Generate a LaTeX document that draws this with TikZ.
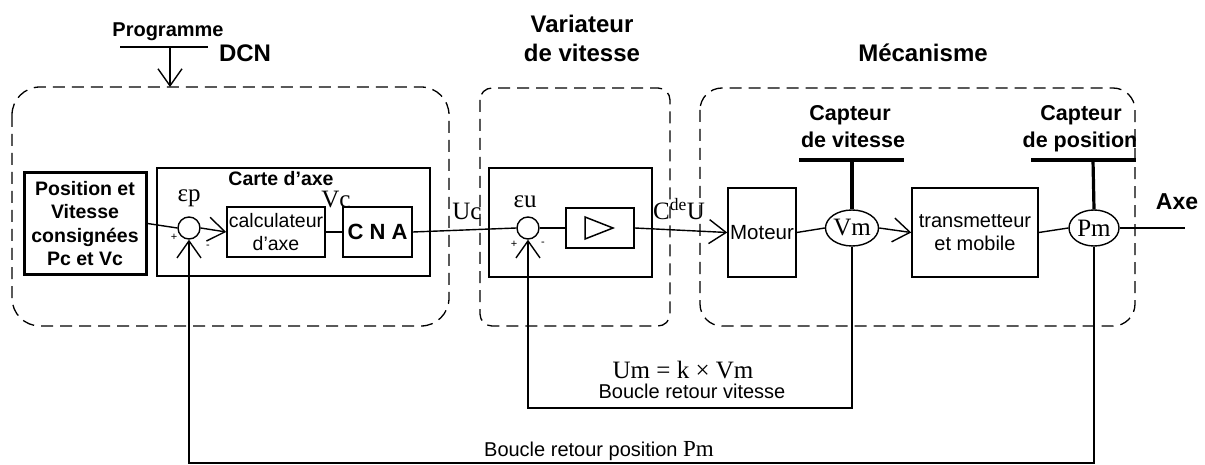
\documentclass[tikz,border=0pt]{standalone}
\usepackage{fontspec}
\setmainfont{Liberation Serif}
\setsansfont{Liberation Sans}
\usetikzlibrary{arrows.meta,shapes.geometric,calc}
\newcommand\fz[2]{\fontsize{#1}{#2}\selectfont}
\begin{document}
\begin{tikzpicture}[x=1pt,y=-1pt,
  ln/.style={line width=1.4pt},
  arr/.style={-{Straight Barb[length=17pt,width=24pt]}},
  blk/.style={draw,line width=1.5pt,inner sep=0pt,align=center,font=\sffamily\fz{19.5}{23.5}},
  dbox/.style={draw,line width=1.3pt,dash pattern=on 12pt off 7pt},
  sumc/.style={circle,draw,line width=1.4pt,minimum size=22pt,inner sep=0pt},
  meas/.style={ellipse,draw,line width=1.4pt,minimum width=50pt,minimum height=36pt,inner sep=0pt,font=\rmfamily\fz{25}{25}},
  head/.style={font=\sffamily\bfseries\fz{24}{28},anchor=base,inner sep=0pt},
  capt/.style={font=\sffamily\bfseries\fz{21.5}{27},anchor=base,inner sep=0pt},
  sig/.style={font=\rmfamily\fz{25}{25},anchor=base,inner sep=0pt},
  note/.style={font=\sffamily\fz{20}{24},anchor=base,inner sep=0pt},
  sgn/.style={font=\sffamily\fz{11}{11},inner sep=0pt},
  tbar/.style={line width=3.2pt}]
\useasboundingbox (0,0) rectangle (1205,465);

% dashed groups
\draw[dbox,rounded corners=28pt] (12,87) rectangle (449,326);
\draw[dbox,rounded corners=12pt] (480,88) rectangle (670,326);
\draw[dbox,rounded corners=22pt] (700,88) rectangle (1135,326);

% headings
\node[font=\sffamily\bfseries\fz{20}{24},anchor=base,inner sep=0pt] (prog) at (168,37) {Programme};
\node[head] (dcn) at (245,62) {DCN};
\node[head] (var1) at (582,33) {Variateur};
\node[head] (var2) at (582,62) {de vitesse};
\node[head] (meca) at (923,62) {Mécanisme};
\node[capt] (cv1) at (850,121) {Capteur};
\node[capt] (cv2) at (853,148) {de vitesse};
\node[capt] (cp1) at (1081,121) {Capteur};
\node[capt] (cp2) at (1080,148) {de position};

% programme input
\coordinate (pbl) at (120,47);
\coordinate (pbr) at (208,47);
\coordinate (pbm) at (170,47);
\coordinate (dcntop) at (170,87);
\draw[ln] (pbl) -- (pbr);
\draw[ln,arr] (pbm) -- (dcntop);

% DCN
\node[blk,line width=3pt,minimum width=122pt,minimum height=101pt,font=\sffamily\bfseries\fz{19.5}{23.5}] (pos) at (85,223.5) {Position et\\Vitesse\\consignées\\Pc et Vc};
\node[draw,line width=1.5pt,minimum width=273pt,minimum height=108pt,inner sep=0pt] (carte) at (293.5,222) {};
\node[font=\sffamily\bfseries\fz{19.5}{23},anchor=base,inner sep=0pt] (cartel) at (281,186) {Carte d'axe};
\node[sumc] (ep) at (189,228) {};
\node[sig] (epl) at (189,202) {εp};
\node[blk,minimum width=98pt,minimum height=50pt] (calc) at (276,232) {calculateur\\d'axe};
\node[blk,minimum width=69pt,minimum height=50pt,font=\sffamily\bfseries\fz{22}{26}] (cna) at (377.5,232) {C N A};
\node[sig] (vc) at (336,208) {Vc};
\node[sgn] (ep+) at (174,237) {+};
\node[sgn] (ep-) at (208,247) {-};

% variateur
\node[draw,line width=1.5pt,minimum width=163pt,minimum height=109pt,inner sep=0pt] (vbox) at (570.5,222.5) {};
\node[sumc] (eu) at (528,228) {};
\node[sig] (eul) at (525,208) {εu};
\node[sgn] (eu+) at (514,244) {+};
\node[sgn] (eu-) at (543,244) {-};
\node[draw,line width=1.5pt,minimum width=68pt,minimum height=40pt,inner sep=0pt] (amp) at (600,228) {};
\draw[line width=1.5pt] ($(amp.center)+(-15,-11)$) -- ($(amp.center)+(13,0)$) -- ($(amp.center)+(-15,11)$) -- cycle;
\node[sig] (uc) at (467,220) {Uc};
\node[sig] (cde) at (679,220) {C\textsuperscript{de}U};

% mecanisme
\node[blk,minimum width=68pt,minimum height=89pt,font=\sffamily\fz{20.5}{24}] (mot) at (762,232.5) {Moteur};
\node[meas] (vm) at (852,228) {Vm};
\node[blk,minimum width=126pt,minimum height=89pt,font=\sffamily\fz{20}{23.5}] (trans) at (975,232.5) {transmetteur\\et mobile};
\node[meas] (pm) at (1094,228) {Pm};
\node[font=\sffamily\bfseries\fz{23}{27},anchor=base,inner sep=0pt] (axe) at (1177,210) {Axe};
\coordinate (axeend) at (1185,228);

% sensors
\coordinate (cvl) at (799,160); \coordinate (cvr) at (904,160); \coordinate (cvm) at (852,160);
\coordinate (cpl) at (1031,160); \coordinate (cpr) at (1136,160); \coordinate (cpm) at (1093,160);
\draw[tbar] (cvl) -- (cvr);
\draw[tbar] (cvm) -- (vm.north);
\draw[tbar] (cpl) -- (cpr);
\draw[tbar] (cpm) -- (pm.north);

% forward chain
\draw[ln] (pos.east) -- (ep.west);
\draw[ln,arr] (ep.east) -- (calc.west);
\draw[ln] (calc.east) -- (cna.west);
\draw[ln] (cna.east) -- (eu.west);
\draw[ln] (eu.east) -- (amp.west);
\draw[ln,arr] (amp.east) -- (mot.west);
\draw[ln] (mot.east) -- (vm.west);
\draw[ln,arr] (vm.east) -- (trans.west);
\draw[ln] (trans.east) -- (pm.west);
\draw[ln] (pm.east) -- (axeend);

% feedback loops
\coordinate (spd) at (690,408);
\coordinate (psl) at (640,463);
\draw[ln,arr] (vm.south) |- (spd) -| (eu.south);
\draw[ln,arr] (pm.south) |- (psl) -| (ep.south);
\node[sig] (um) at (683,378) {Um = k × Vm};
\node[note] (brv) at (692,398) {Boucle retour vitesse};
\node[note] (brp) at (599,456) {Boucle retour position {\rmfamily\fz{23}{23}Pm}};
\end{tikzpicture}
\end{document}
